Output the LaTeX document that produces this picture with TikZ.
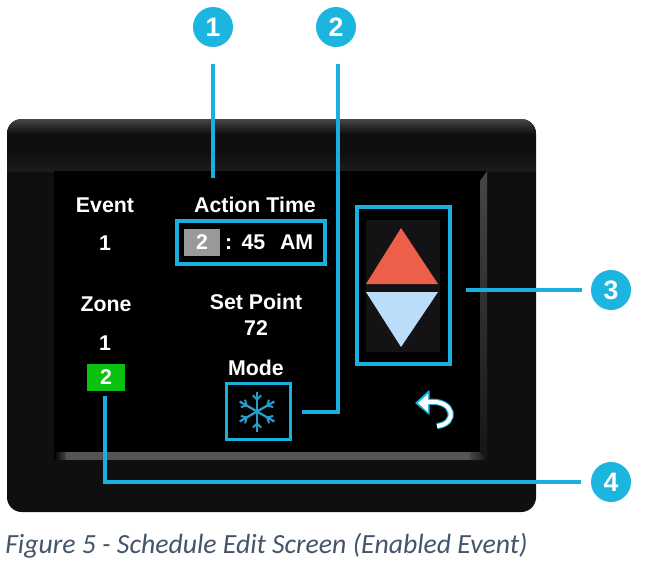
\documentclass[tikz,border=0pt]{standalone}
\usepackage{fontspec}
\setmainfont{Liberation Sans}
\newfontfamily\captionfont{Carlito}
\usepackage{xcolor}
\usetikzlibrary{arrows.meta, positioning}
\definecolor{callout}{HTML}{1CB5E0}
\definecolor{leader}{HTML}{18B0DC}
\definecolor{frameblack}{HTML}{0F0F0F}
\definecolor{rimgray}{HTML}{464646}
\definecolor{keyblack}{HTML}{131316}
\definecolor{upred}{HTML}{EE5F4A}
\definecolor{downblue}{HTML}{BBDDFA}
\definecolor{zonegreen}{HTML}{0BC10F}
\definecolor{flakeblue}{HTML}{2A9CCB}
\definecolor{captiontext}{HTML}{44546A}
\tikzset{
    callnum/.style={circle, fill=callout, text=white, minimum size=30pt, inner sep=0pt, font=\fontsize{20}{20}\selectfont\bfseries},
    screentext/.style={text=white, inner sep=0pt, font=\fontsize{16}{17}\selectfont\bfseries},
    leadline/.style={draw=leader, line width=2.6pt},
    hibox/.style={draw=leader, line width=2.6pt, inner sep=0pt},
}

\begin{document}
\begin{tikzpicture}[x=0.75pt, y=-0.75pt]
    \useasboundingbox (0,0) rectangle (646,567);

    % housing
    \fill[frameblack, rounded corners=11pt] (7,119) rectangle (536,512);
    \begin{scope}
        \clip[rounded corners=11pt] (7,119) rectangle (536,512);
        \shade[top color=rimgray, bottom color=frameblack] (7,119) rectangle (536,134);
        \shade[top color=frameblack, bottom color=black!60!rimgray] (7,152) rectangle (536,171);
    \end{scope}
    \fill[black] (54,171) rectangle (487,460);
    \shade[left color=black, right color=rimgray] (54,452) -- (66,452) -- (66,460) -- (56,460) -- cycle;
    \fill[rimgray!120!black] (66,452) rectangle (470,460);
    \shade[left color=rimgray, right color=black!70!rimgray] (470,452) -- (480,452) -- (487,460) -- (470,460) -- cycle;
    \shade[top color=rimgray, bottom color=black!70!rimgray] (487,171) -- (480,181) -- (480,452) -- (487,460) -- cycle;

    % labels on the screen
    \node[screentext] (event) at (105,205) {Event};
    \node[screentext] (eventnum) at (105,243) {1};
    \node[screentext] (actiontime) at (255,205) {Action Time};
    \node[screentext] (zone) at (106,304) {Zone};
    \node[screentext] (zoneone) at (105,343) {1};
    \node[screentext] (setpoint) at (256,302) {Set Point};
    \node[screentext] (setval) at (256,328) {72};
    \node[screentext] (mode) at (256,368) {Mode};

    % time field
    \node[hibox, minimum width=111pt, minimum height=32pt] (timebox) at (251,242.5) {};
    \node[fill=black!40, text=white, minimum width=27pt, minimum height=20pt, inner sep=0pt, font=\fontsize{16}{17}\selectfont\bfseries] (hour) at (202,242.5) {2};
    \node[screentext, right=3.5pt of hour] (timeval) {:\hspace{7pt}45\hspace{11pt}AM};

    % zone 2
    \node[fill=zonegreen, text=white, minimum width=28pt, minimum height=20pt, inner sep=0pt, font=\fontsize{16}{17}\selectfont\bfseries] (zonetwo) at (106,377.5) {2};

    % up and down keys
    \fill[keyblack] (366,220) rectangle (440,352);
    \node[hibox, minimum width=70pt, minimum height=118pt] (keybox) at (403.5,285.5) {};
    \fill[upred] (366,284) -- (401,228) -- (438,284) -- cycle;
    \fill[downblue] (366,292) -- (438,292) -- (401,347) -- cycle;

    % mode key with snowflake
    \node[hibox, minimum width=48pt, minimum height=42pt] (modebox) at (258.5,411.5) {};
    \foreach \a in {30,90,150,210,270,330} {
        \draw[flakeblue, line width=1.7pt] (257,411.5) -- +(\a:20);
        \draw[flakeblue, line width=1.5pt] (257,411.5) ++(\a:12) -- +(\a+45:6);
        \draw[flakeblue, line width=1.5pt] (257,411.5) ++(\a:12) -- +(\a-45:6);
    }

    % back key
    \draw[leader, line width=4.6pt] (437,426) .. controls (458,424) and (455,399) .. (428,402);
    \draw[leader, line width=1pt, fill=leader, line join=round] (416,403) -- (429,391) -- (429,414) -- cycle;
    \draw[white, line width=3pt] (437,426) .. controls (458,424) and (455,399) .. (428,402);
    \fill[white] (418,403) -- (428,394) -- (428,412) -- cycle;

    % callouts
    \node[callnum] (num1) at (213,27) {1};
    \node[callnum] (num2) at (336,27) {2};
    \node[callnum] (num3) at (611,290) {3};
    \node[callnum] (num4) at (611,482) {4};

    \coordinate (end1a) at (213,64);
    \coordinate (end1b) at (213,178);
    \coordinate (end2a) at (338,64);
    \coordinate (end2b) at (302,412);
    \coordinate (end3a) at (466,290);
    \coordinate (end3b) at (582,290);
    \coordinate (end4a) at (105,396);
    \coordinate (end4b) at (581,482);

    \draw[leadline] (end1a) -- (end1b);
    \draw[leadline] (end2a) |- (end2b);
    \draw[leadline] (end3a) -- (end3b);
    \draw[leadline] (end4a) |- (end4b);

    % caption
    \node[anchor=west, inner sep=0pt, text=captiontext, font=\captionfont\itshape\fontsize{20.8}{22}\selectfont] (caption) at (5,546) {Figure 5 - Schedule Edit Screen (Enabled Event)};
\end{tikzpicture}
\end{document}
